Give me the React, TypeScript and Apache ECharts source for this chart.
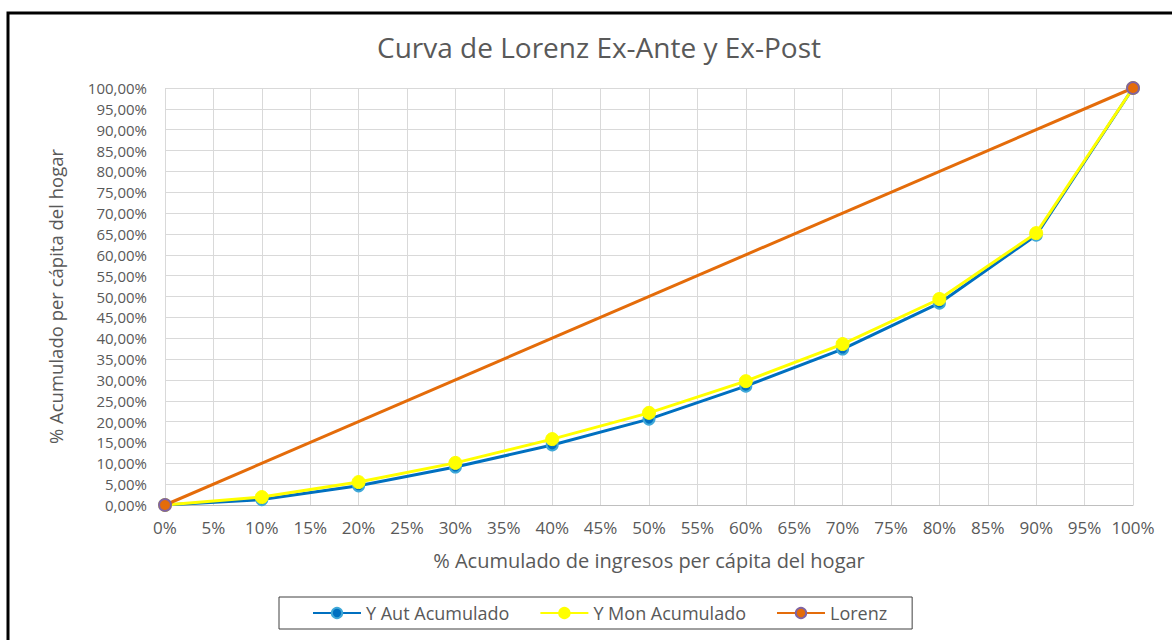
import React, { useEffect, useRef } from "react";
import * as echarts from "echarts";

const xPoints = [0, 10, 20, 30, 40, 50, 60, 70, 80, 90, 100];
const yAut = [0, 1.3, 4.6, 9.1, 14.4, 20.6, 28.5, 37.4, 48.4, 64.7, 100];
const yMon = [0, 1.9, 5.5, 10.1, 15.8, 22.1, 29.7, 38.6, 49.4, 65.2, 100];
const lorenzX = [0, 100];
const lorenzY = [0, 100];

const titleText = "Curva de Lorenz Ex-Ante y Ex-Post";
const xName = "% Acumulado de ingresos per cápita del hogar";
const yName = "% Acumulado per cápita del hogar";
const seriesNames = ["Y Aut Acumulado", "Y Mon Acumulado", "Lorenz"];

const FONT = "Open Sans";
const TXT = "#595959";

export default function App() {
  const ref = useRef<HTMLDivElement>(null);
  useEffect(() => {
    if (!ref.current) return;
    const chart = echarts.init(ref.current, undefined, { renderer: "svg" });
    const pair = (xs: number[], ys: number[]) => xs.map((x, i) => [x, ys[i]]);
    chart.setOption({
      animation: false,
      backgroundColor: "#ffffff",
      textStyle: { fontFamily: FONT },
      title: {
        text: titleText,
        left: 594,
        textAlign: "center",
        top: 28,
        textStyle: { fontFamily: FONT, fontSize: 28, fontWeight: "normal", color: TXT },
      },
      graphic: [
        {
          type: "rect",
          shape: { x: 8, y: 13, width: 1400, height: 900 },
          style: { fill: "none", stroke: "#000000", lineWidth: 3 },
          silent: true,
        },
      ],
      grid: { left: 165, right: 39, top: 88, bottom: 135, containLabel: false },
      xAxis: {
        type: "value",
        min: 0,
        max: 100,
        interval: 5,
        name: xName,
        nameLocation: "middle",
        nameGap: 45,
        nameTextStyle: { fontFamily: FONT, fontSize: 20, color: TXT },
        axisLine: { show: true, lineStyle: { color: "#BFBFBF", width: 1 } },
        axisTick: { show: false },
        axisLabel: {
          formatter: (v: number) => v + "%",
          fontFamily: FONT,
          fontSize: 17,
          color: TXT,
          margin: 14,
        },
        splitLine: { show: true, lineStyle: { color: "#D9D9D9", width: 1 } },
      },
      yAxis: {
        type: "value",
        min: 0,
        max: 100,
        interval: 5,
        name: yName,
        nameLocation: "middle",
        nameRotate: 90,
        nameGap: 100,
        nameTextStyle: { fontFamily: FONT, fontSize: 18.5, color: TXT },
        axisLine: { show: false },
        axisTick: { show: false },
        axisLabel: {
          formatter: (v: number) => v.toFixed(2).replace(".", ",") + "%",
          fontFamily: FONT,
          fontSize: 15,
          lineHeight: 16,
          color: TXT,
          margin: 18,
        },
        splitLine: { show: true, lineStyle: { color: "#D9D9D9", width: 1 } },
      },
      legend: {
        data: seriesNames,
        left: 279,
        top: 597,
        orient: "horizontal",
        padding: [7, 25, 7, 33],
        itemGap: 30,
        itemWidth: 48,
        itemHeight: 13,
        borderColor: "#404040",
        borderWidth: 1,
        borderRadius: 0,
        textStyle: { fontFamily: FONT, fontSize: 18, color: TXT },
      },
      series: [
        {
          name: seriesNames[0],
          type: "line",
          data: pair(xPoints, yAut),
          symbol: "circle",
          symbolSize: 11,
          lineStyle: { color: "#0070C0", width: 3 },
          itemStyle: { color: "#0070C0", borderColor: "#3FA8D8", borderWidth: 2 },
          z: 2,
        },
        {
          name: seriesNames[1],
          type: "line",
          data: pair(xPoints, yMon),
          symbol: "circle",
          symbolSize: 13,
          lineStyle: { color: "#FFFF00", width: 3 },
          itemStyle: { color: "#FFFF00", borderColor: "#FFFF00", borderWidth: 1 },
          z: 3,
        },
        {
          name: seriesNames[2],
          type: "line",
          data: pair(lorenzX, lorenzY),
          symbol: "circle",
          symbolSize: 12,
          lineStyle: { color: "#E46C0A", width: 3 },
          itemStyle: { color: "#E46C0A", borderColor: "#8064A2", borderWidth: 2 },
          z: 4,
        },
      ],
    });
    return () => chart.dispose();
  }, []);
  return (
    <div
      ref={ref}
      style={{ position: "absolute", left: 0, top: 0, width: 1172, height: 640 }}
    />
  );
}
